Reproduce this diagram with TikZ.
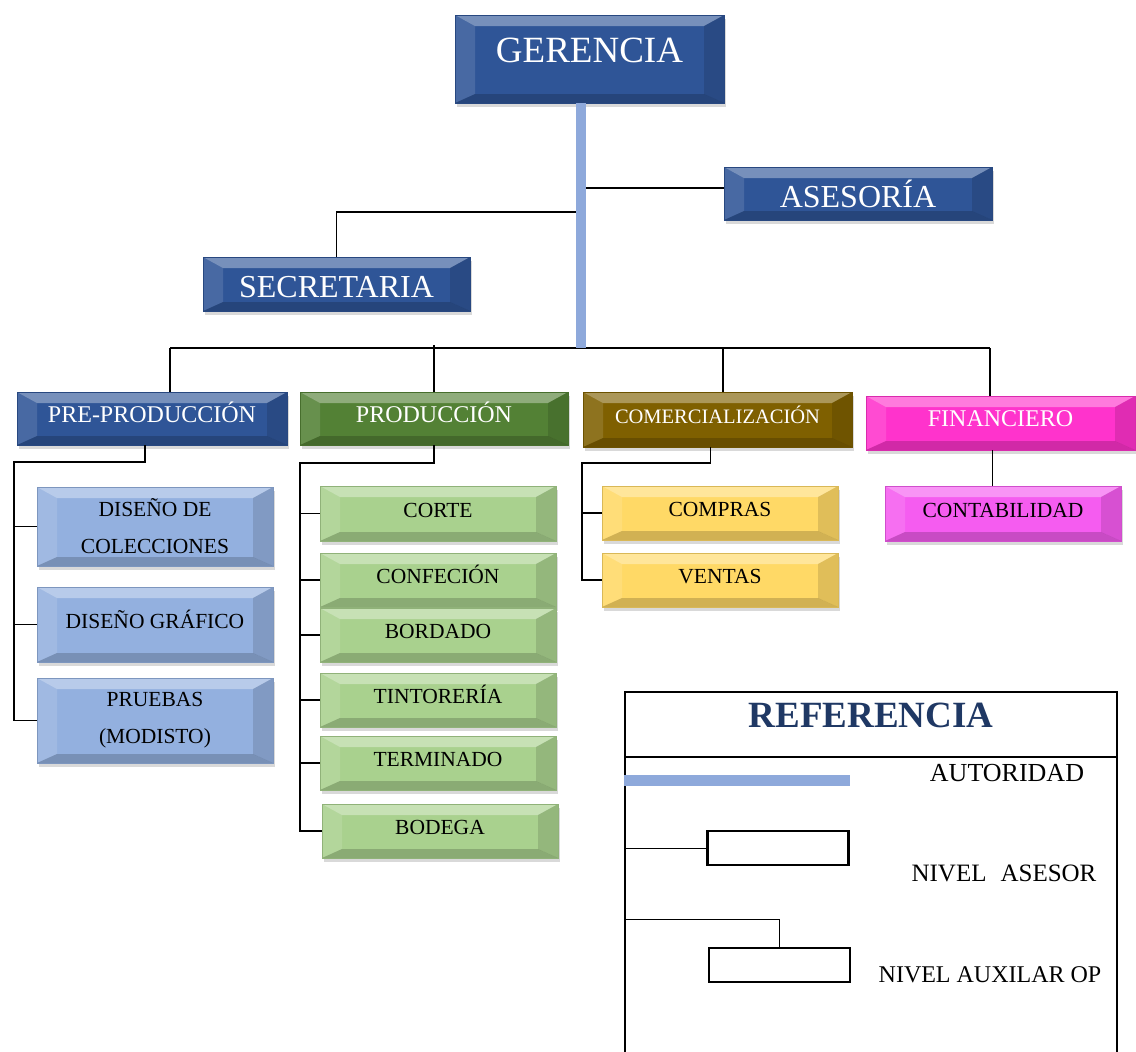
\documentclass[tikz,border=0pt]{standalone}
\usepackage{fontspec}
\setmainfont{Liberation Serif}
\usepackage{xcolor}
\usepackage{tikz}
\usetikzlibrary{positioning, calc, shadows}
\definecolor{orgBlue}{HTML}{2F5597}
\definecolor{orgLine}{HTML}{8EA9DB}
\definecolor{orgSky}{HTML}{93B0DF}
\definecolor{orgGreen}{HTML}{538135}
\definecolor{orgLeaf}{HTML}{A9D18E}
\definecolor{orgOlive}{HTML}{7F6000}
\definecolor{orgSand}{HTML}{FFD966}
\definecolor{orgPink}{HTML}{FF33CC}
\definecolor{orgRose}{HTML}{F55CF0}
\definecolor{orgNavy}{HTML}{1F3864}

\begin{document}
\begin{tikzpicture}[
  x=1pt, y=-1pt,
  box/.style={fill=#1, draw=#1!85!black, inner sep=0pt, outer sep=0pt, align=center,
              drop shadow={shadow xshift=2pt, shadow yshift=-4pt, opacity=.3},
              path picture={
                \fill[white, opacity=.35] (path picture bounding box.north west) -- (path picture bounding box.north east)
                  -- ([shift={(-20pt,-11pt)}]path picture bounding box.north east) -- ([shift={(20pt,-11pt)}]path picture bounding box.north west) -- cycle;
                \fill[white, opacity=.12] (path picture bounding box.north west) -- ([shift={(20pt,-11pt)}]path picture bounding box.north west)
                  -- ([shift={(20pt,9pt)}]path picture bounding box.south west) -- (path picture bounding box.south west) -- cycle;
                \fill[black, opacity=.12] (path picture bounding box.north east) -- ([shift={(-20pt,-11pt)}]path picture bounding box.north east)
                  -- ([shift={(-20pt,9pt)}]path picture bounding box.south east) -- (path picture bounding box.south east) -- cycle;
                \fill[black, opacity=.18] (path picture bounding box.south west) -- ([shift={(20pt,9pt)}]path picture bounding box.south west)
                  -- ([shift={(-20pt,9pt)}]path picture bounding box.south east) -- (path picture bounding box.south east) -- cycle;
              }},
  top/.style={box=orgBlue, text=white},
  up/.style={text height=15pt, text depth=8pt},
  head/.style={box=#1, text=white, minimum height=53, up, font=\fontsize{24}{28}\selectfont},
  sub/.style={box=#1, text=black, minimum width=236, minimum height=54, font=\fontsize{21.5}{37}\selectfont},
  edge/.style={draw=black, line width=1.1pt},
  auth/.style={draw=orgLine, line width=10pt},
  frame/.style={draw=black, line width=2pt},
  legbox/.style={draw=black, line width=2.4pt, fill=white, minimum width=141, minimum height=34, inner sep=0pt},
  legtxt/.style={font=\fontsize{24}{28}\selectfont},
]
\useasboundingbox (0,0) rectangle (1136,1052);

% top levels
\node[top, minimum width=269, minimum height=88, text height=26pt, text depth=19pt,
      font=\fontsize{37}{40}\selectfont] (ger) at (589.5,59) {GERENCIA};
\node[top, minimum width=268, minimum height=53, font=\fontsize{32}{36}\selectfont] (ase) at (858,193.5) {ASESORÍA};
\node[top, minimum width=267, minimum height=54, text height=27pt, text depth=0pt,
      font=\fontsize{32}{36}\selectfont] (sec) at (336.5,284) {SECRETARIA};

% areas
\node[head=orgBlue,  minimum width=270] (pre)  at (152,418.5)   {PRE-PRODUCCIÓN};
\node[head=orgGreen, minimum width=268] (prod) at (434,418.5)   {PRODUCCIÓN};
\node[head=orgOlive, minimum width=269, minimum height=55,
      font=\fontsize{20.5}{24}\selectfont] (com) at (717.5,419.5) {COMERCIALIZACIÓN};
\node[head=orgPink,  minimum width=269, minimum height=54] (fin)  at (1000.5,423) {FINANCIERO};

% authority line
\coordinate (hub) at (581,348);
\coordinate (hl) at (170,348);
\coordinate (hr) at (990,348);
\draw[edge] (hl) -- (hr);
\draw[edge] (hl) -- (hl |- pre.north);
\draw[edge] ([yshift=3pt]prod.north |- hl) -- (prod.north);
\draw[edge] ([xshift=5.5pt]com.north |- hl) -- ([xshift=5.5pt]com.north);
\draw[edge] (hr) -- (hr |- fin.north);
\coordinate (ja) at (585,188);
\coordinate (js) at (578,212);
\draw[edge] (ja) -- (ja -| ase.west);
\draw[edge] (js) -| (sec.north);
\draw[auth] (hub |- ger.south) -- (hub);

% pre-produccion
\node[sub=orgSky, minimum height=79] (p1) at (155,526.5) {DISEÑO DE\\COLECCIONES};
\node[sub=orgSky, minimum height=75, up, below=21pt of p1] (p2) {DISEÑO GRÁFICO};
\node[sub=orgSky, minimum height=85, below=16pt of p2] (p3) {PRUEBAS\\(MODISTO)};
\coordinate (pj) at (14,462);
\draw[edge] ([xshift=-7pt]pre.south) |- (pj) |- (p3.west);
\draw[edge] (pj |- p1.west) -- (p1.west);
\draw[edge] (pj |- p2.west) -- (p2.west);

% produccion
\node[sub=orgLeaf, up, minimum height=55] (c1) at (438,513.5) {CORTE};
\node[sub=orgLeaf, up, below=12pt of c1] (c2) {CONFECIÓN};
\node[sub=orgLeaf, up, below=1pt of c2]  (c3) {BORDADO};
\node[sub=orgLeaf, up, below=11pt of c3] (c4) {TINTORERÍA};
\node[sub=orgLeaf, up, below=9pt of c4]  (c5) {TERMINADO};
\node[sub=orgLeaf, up, below=14pt of c5, xshift=2pt] (c6) {BODEGA};
\coordinate (cj) at (300,463);
\draw[edge] (prod.south) |- (cj) |- (c6.west);
\foreach \k in {c1,c2,c3,c4,c5}
  \draw[edge] (cj |- \k.west) -- (\k.west);

% comercializacion
\node[sub=orgSand, up] (v1) at (720,513) {COMPRAS};
\node[sub=orgSand, up, below=13pt of v1] (v2) {VENTAS};
\coordinate (vj) at (582,463);
\draw[edge] ([xshift=-7pt]com.south) |- (vj) |- (v2.west);
\draw[edge] (vj |- v1.west) -- (v1.west);

% financiero
\node[sub=orgRose, up, minimum height=55] (k1) at (1003,513.5) {CONTABILIDAD};
\draw[edge] ([xshift=-8pt]fin.south) -- ([xshift=-8pt]fin.south |- k1.north);

% referencia
\draw[frame] (625,1052) -- (625,692) -- (1117,692) -- (1117,1052);
\draw[frame] (625,757) -- (1117,757);
\node[text=orgNavy, font=\fontsize{37}{40}\selectfont\bfseries] (reft) at (871,715) {REFERENCIA};
\coordinate (la) at (624,780.5);
\coordinate (lb) at (850,780.5);
\draw[auth, line width=11pt] (la) -- (lb);
\node[legtxt, font=\fontsize{26}{30}\selectfont] (lauto) at (1007,773) {AUTORIDAD};
\node[legbox] (lb1) at (778,848) {};
\coordinate (ls1) at (624,848);
\draw[edge, line width=0.9pt] (ls1) -- (lb1.west);
\node[legtxt, font=\fontsize{25}{30}\selectfont] (lase) at (1004,873) {NIVEL\hspace{14pt}ASESOR};
\node[legbox] (lb2) at (779.5,965) {};
\coordinate (ls2) at (624,919);
\draw[edge, line width=0.9pt] (ls2) -| (lb2.north);
\node[legtxt] (laux) at (990,975) {NIVEL AUXILAR OP};
\end{tikzpicture}
\end{document}
